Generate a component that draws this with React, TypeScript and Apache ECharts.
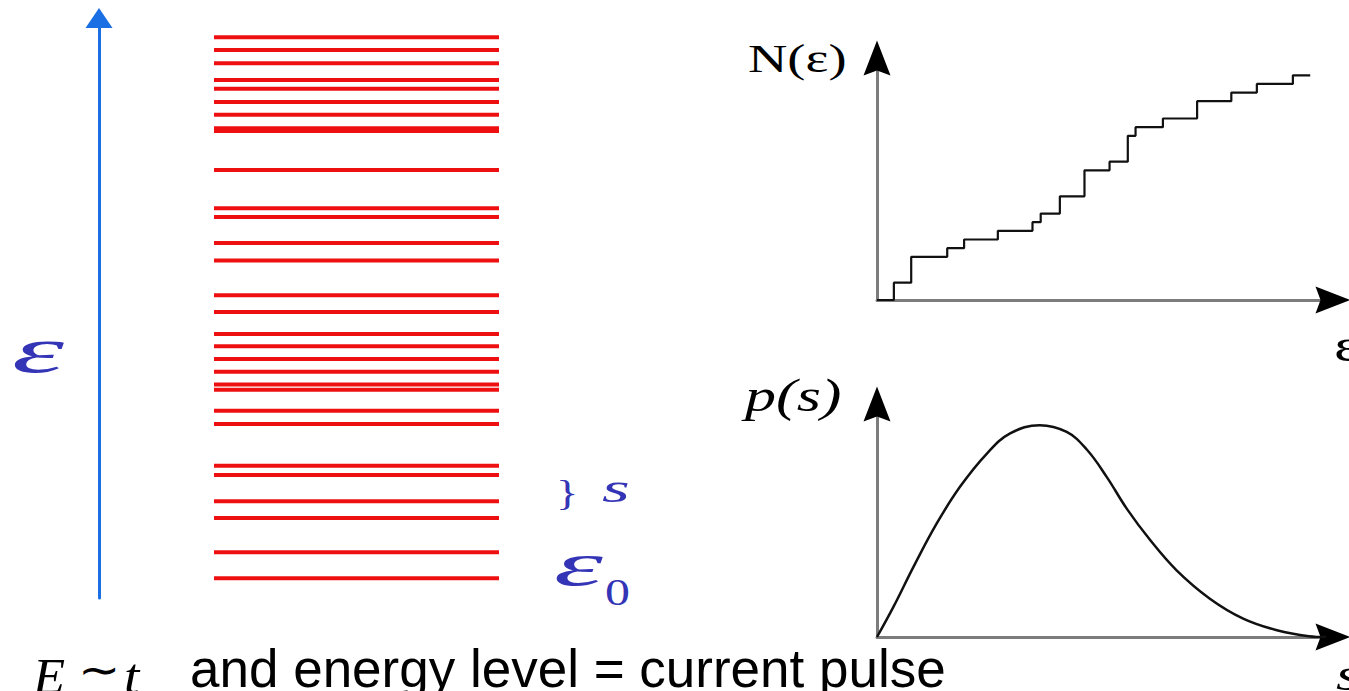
import React, { useEffect, useRef } from "react";
import * as echarts from "echarts";

// Energy levels of the spectrum ladder (energy units, 0–100 along the blue axis)
const levels = [
  96.7, 94.5, 92.2, 89.3, 87.8, 85.5, 83.3, 81.0, 80.5, 73.8, 67.2, 65.7, 61.2, 58.2, 52.2,
  49.3, 45.5, 43.4, 41.2, 39.0, 36.8, 35.9, 32.3, 30.0, 22.8, 21.2, 16.7, 13.8, 7.9, 3.4,
];

// Integrated level count N(ε): energy of each jump and the count reached there
const stepEnergy = [0, 3.7, 7.5, 15.4, 19.1, 26.5, 34.1, 35.9, 40.1, 45.5, 51.0, 55.0, 56.7, 62.7, 70.2, 77.7, 83.3, 91.2, 95.0];
const stepCount = [0, 2, 5, 6, 7, 8, 9, 10, 12, 15, 16, 19, 20, 21, 23, 24, 25, 26, 26];

// Nearest-neighbour spacing distribution p(s)
const spacing = [0, 3.6, 8.0, 13.1, 18.2, 24.1, 29.2, 35.7, 41.6, 46.0, 50.4, 54.8, 59.9, 65.7, 73.0, 80.3, 87.7, 94.7, 98.5];
const density = [0, 0.142, 0.331, 0.536, 0.709, 0.866, 0.961, 1.0, 0.968, 0.885, 0.755, 0.605, 0.458, 0.315, 0.181, 0.087, 0.032, 0.004, 0];

const SERIF = "'Liberation Serif', 'Times New Roman', serif";
const SANS = "'Liberation Sans', Arial, sans-serif";
const INK_BLUE = "#3434b6";

// Solid arrowhead with a shallow notch at its base, pointing up
const ARROW_HEAD = "path://M13.5,0 L27,35 L13.5,30 L0,35 Z";

const bare = {
  axisTick: { show: false },
  axisLabel: { show: false },
  splitLine: { show: false },
};

const shaftLine = { show: true, onZero: false, lineStyle: { color: "#7c7c7c", width: 3 } };
const headLine = {
  show: true,
  onZero: false,
  symbol: ["none", ARROW_HEAD],
  symbolSize: [27, 35],
  lineStyle: { color: "#000000", width: 0 },
};

function valueAxis(gridIndex: number, min: number, max: number, line: any, position: string) {
  return { type: "value", gridIndex, min, max, position, axisLine: line, ...bare };
}

function label(text: string, x: number, y: number, size: number, opts: any = {}) {
  return {
    type: "text",
    x,
    y,
    scaleX: opts.scaleX ?? 1,
    style: {
      text,
      fill: opts.color ?? "#000000",
      fontSize: size,
      fontFamily: opts.family ?? SERIF,
      fontStyle: opts.italic ? "italic" : "normal",
      textAlign: "left",
      textVerticalAlign: "middle",
    },
  };
}

export default function App() {
  const ref = useRef<HTMLDivElement>(null);

  useEffect(() => {
    if (!ref.current) return;
    const chart = echarts.init(ref.current, null, { renderer: "svg" });

    const option: any = {
      animation: false,
      backgroundColor: "#ffffff",
      grid: [
        { left: 214, top: 18, width: 285, height: 580 },
        { left: 877, top: 58, width: 456, height: 242 },
        { left: 877, top: 404, width: 456, height: 233 },
      ],
      xAxis: [
        { type: "value", gridIndex: 0, min: 0, max: 1, show: false },
        valueAxis(1, 0, 100, shaftLine, "bottom"),
        valueAxis(1, 0, 100, headLine, "bottom"),
        valueAxis(2, 0, 100, shaftLine, "bottom"),
        valueAxis(2, 0, 100, headLine, "bottom"),
      ],
      yAxis: [
        {
          type: "value",
          gridIndex: 0,
          min: 0,
          max: 100,
          position: "left",
          offset: 115,
          axisLine: {
            show: true,
            onZero: false,
            symbol: ["none", "triangle"],
            symbolSize: [27, 20],
            lineStyle: { color: "#1b6fe4", width: 3 },
          },
          ...bare,
        },
        valueAxis(1, 0, 28, shaftLine, "left"),
        valueAxis(1, 0, 28, headLine, "left"),
        valueAxis(2, 0, 1.1, shaftLine, "left"),
        valueAxis(2, 0, 1.1, headLine, "left"),
      ],
      series: [
        {
          type: "custom",
          xAxisIndex: 0,
          yAxisIndex: 0,
          data: levels.map((v) => [0, v]),
          renderItem: (_params: any, api: any) => {
            const e = api.value(1);
            const a = api.coord([0, e]);
            const b = api.coord([1, e]);
            return {
              type: "line",
              shape: { x1: a[0], y1: a[1], x2: b[0], y2: b[1] },
              style: { stroke: "#ee1010", lineWidth: 4 },
            };
          },
        },
        {
          type: "line",
          xAxisIndex: 1,
          yAxisIndex: 1,
          step: "end",
          symbol: "none",
          data: stepEnergy.map((x, i) => [x, stepCount[i]]),
          lineStyle: { color: "#111111", width: 2.2 },
        },
        {
          type: "line",
          xAxisIndex: 3,
          yAxisIndex: 3,
          smooth: 0.4,
          symbol: "none",
          data: spacing.map((x, i) => [x, density[i]]),
          lineStyle: { color: "#111111", width: 2.5 },
        },
      ],
      graphic: [
        label("ε", 12, 350, 66, { italic: true, color: INK_BLUE, scaleX: 2.0 }),
        label("}", 556, 493, 36, { color: INK_BLUE, scaleX: 1.3 }),
        label("s", 602, 488, 42, { italic: true, color: INK_BLUE, scaleX: 1.7 }),
        label("ε", 554, 564, 62, { italic: true, color: INK_BLUE, scaleX: 2.0 }),
        label("0", 605, 593, 37, { color: INK_BLUE, scaleX: 1.35 }),
        label("N(ε)", 748, 58, 41, { scaleX: 1.33 }),
        label("p(s)", 745, 395, 46, { italic: true, scaleX: 1.35 }),
        label("ε", 1334, 345, 46, { scaleX: 1.35 }),
        label("s", 1336, 674, 46, { italic: true, scaleX: 1.35 }),
        label("E", 33, 676, 50, { italic: true, scaleX: 1.05 }),
        label("∼", 78, 670, 44, { scaleX: 1.15 }),
        label("t", 124, 676, 50, { italic: true, scaleX: 1.1 }),
        label("and energy level = current pulse", 190, 668, 53, { family: SANS }),
      ],
    };

    chart.setOption(option);
    return () => chart.dispose();
  }, []);

  return (
    <div
      ref={ref}
      style={{ position: "fixed", left: 0, top: 0, width: 1349, height: 691, background: "#fff" }}
    />
  );
}
